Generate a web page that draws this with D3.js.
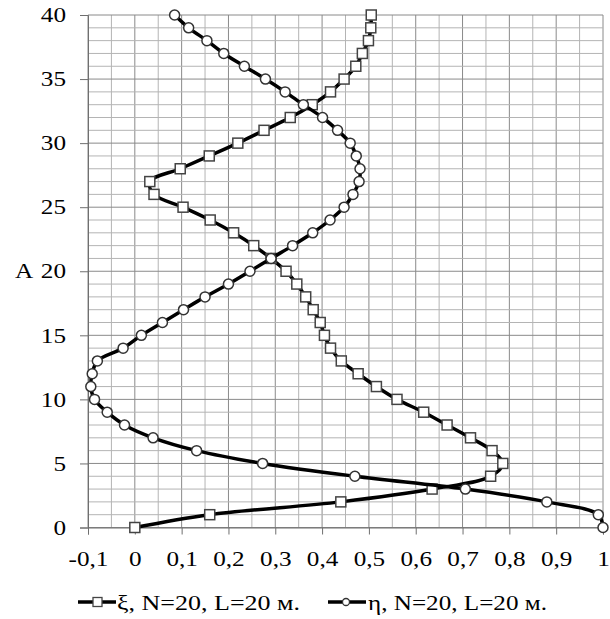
<!DOCTYPE html>
<html>
<head>
<meta charset="utf-8">
<script src="https://cdn.jsdelivr.net/npm/d3@7"></script>
<style>
  body { margin: 0; background: #fff; }
  svg text { font-family: "Liberation Serif", "Times New Roman", "DejaVu Serif", serif !important; }
</style>
</head>
<body>
<div id="chart"></div>
<script>
// A = 0..40
const levels = d3.range(0, 41);
const xiValues = [0, 0.16, 0.44, 0.635, 0.76, 0.786, 0.763, 0.717, 0.667, 0.617, 0.56,
  0.516, 0.477, 0.441, 0.418, 0.405, 0.396, 0.381, 0.365, 0.346, 0.323,
  0.291, 0.254, 0.211, 0.161, 0.103, 0.041, 0.032, 0.097, 0.159, 0.22,
  0.276, 0.332, 0.379, 0.418, 0.447, 0.472, 0.486, 0.499, 0.504, 0.505];
const etaValues = [1.0, 0.99, 0.88, 0.706, 0.47, 0.273, 0.132, 0.039, -0.022, -0.059, -0.086,
  -0.094, -0.091, -0.08, -0.025, 0.014, 0.059, 0.104, 0.15, 0.2, 0.246,
  0.291, 0.337, 0.38, 0.417, 0.447, 0.466, 0.479, 0.481, 0.473, 0.46,
  0.433, 0.401, 0.36, 0.321, 0.279, 0.234, 0.19, 0.154, 0.115, 0.085];
const xTicks = [-0.1, 0, 0.1, 0.2, 0.3, 0.4, 0.5, 0.6, 0.7, 0.8, 0.9, 1];
const yTicks = [0, 5, 10, 15, 20, 25, 30, 35, 40];
const legendLabels = ["ξ, N=20, L=20 м.", "η, N=20, L=20 м."];
const yTitle = "A";

const width = 610, height = 619;
const svg = d3.select("#chart").append("svg")
  .attr("width", width).attr("height", height);

const x = d3.scaleLinear().domain([-0.1, 1]).range([88, 603]);
const y = d3.scaleLinear().domain([0, 40]).range([527.5, 15]);

const fmt = v => String(+v.toFixed(1)).replace(".", ",");
const fontSize = 21;
const stretch = 1.2; // the source text is a bit wider than the font

// grid
const grid = svg.append("g");
d3.range(-0.1, 1.0001, 0.05).forEach((v, i) => {
  grid.append("line")
    .attr("x1", x(v)).attr("x2", x(v)).attr("y1", y(0)).attr("y2", y(40))
    .attr("stroke", i % 2 === 0 ? "#8a8a8a" : "#b4b4b4").attr("stroke-width", 1);
});
levels.forEach(v => {
  grid.append("line")
    .attr("x1", x(-0.1)).attr("x2", x(1)).attr("y1", y(v)).attr("y2", y(v))
    .attr("stroke", v % 5 === 0 ? "#8a8a8a" : "#b4b4b4").attr("stroke-width", 1);
});

// axes
const xAxis = svg.append("g").attr("transform", `translate(0,${y(0)})`)
  .call(d3.axisBottom(x).tickValues(xTicks).tickSize(7).tickPadding(17).tickFormat(fmt));
const yAxis = svg.append("g").attr("transform", `translate(${x(-0.1)},0)`)
  .call(d3.axisLeft(y).tickValues(yTicks).tickSize(8).tickPadding(14).tickFormat(d => d));
[xAxis, yAxis].forEach(a => {
  a.attr("font-family", null).attr("font-size", null);
  a.select(".domain").attr("stroke", "#6f6f6f");
  a.selectAll(".tick line").attr("stroke", "#6f6f6f");
  a.selectAll("text").style("font-size", fontSize + "px").attr("fill", "#000")
    .attr("transform", `scale(${stretch},1)`);
});
yAxis.selectAll("text").attr("x", -22 / stretch);

svg.append("text").attr("transform", `translate(15,${y(20) + 7}) scale(${stretch},1)`)
  .style("font-size", fontSize + "px").text(yTitle);

// series
const line = d3.line().curve(d3.curveCatmullRom.alpha(0.5));
const xiPts = levels.map((a, i) => [x(xiValues[i]), y(a)]);
const etaPts = levels.map((a, i) => [x(etaValues[i]), y(a)]);

svg.append("path").attr("d", line(xiPts)).attr("fill", "none")
  .attr("stroke", "#000").attr("stroke-width", 3.5);
svg.append("g").selectAll("rect").data(xiPts).join("rect")
  .attr("x", d => d[0] - 5).attr("y", d => d[1] - 5)
  .attr("width", 10).attr("height", 10)
  .attr("fill", "#fff").attr("stroke", "#444").attr("stroke-width", 1.5);

svg.append("path").attr("d", line(etaPts)).attr("fill", "none")
  .attr("stroke", "#000").attr("stroke-width", 3.5);
svg.append("g").selectAll("circle").data(etaPts).join("circle")
  .attr("cx", d => d[0]).attr("cy", d => d[1]).attr("r", 5)
  .attr("fill", "#fff").attr("stroke", "#333").attr("stroke-width", 1.5);

// legend
const legY = 602;
const leg1 = svg.append("g");
leg1.append("line").attr("x1", 78).attr("x2", 116).attr("y1", legY).attr("y2", legY)
  .attr("stroke", "#000").attr("stroke-width", 3.5);
leg1.append("rect").attr("x", 93).attr("y", legY - 4.5).attr("width", 9).attr("height", 9)
  .attr("fill", "#fff").attr("stroke", "#444").attr("stroke-width", 1.3);
leg1.append("text").attr("x", 117).attr("y", legY + 8)
  .attr("textLength", 183).attr("lengthAdjust", "spacingAndGlyphs")
  .style("font-size", fontSize + "px").text(legendLabels[0]);

const leg2 = svg.append("g");
leg2.append("line").attr("x1", 328).attr("x2", 366).attr("y1", legY).attr("y2", legY)
  .attr("stroke", "#000").attr("stroke-width", 3.5);
leg2.append("circle").attr("cx", 346).attr("cy", legY).attr("r", 3.5)
  .attr("fill", "#fff").attr("stroke", "#333").attr("stroke-width", 1.3);
leg2.append("text").attr("x", 368).attr("y", legY + 8)
  .attr("textLength", 179).attr("lengthAdjust", "spacingAndGlyphs")
  .style("font-size", fontSize + "px").text(legendLabels[1]);
</script>
</body>
</html>
